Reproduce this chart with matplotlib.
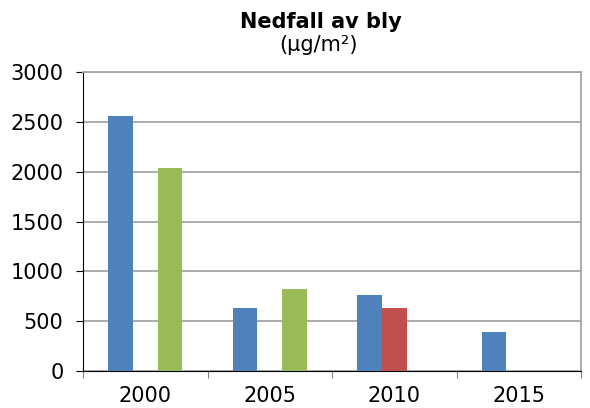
import numpy as np
import matplotlib.pyplot as plt

# data
years = ["2000", "2005", "2010", "2015"]
serie_blaa = [2555, 635, 760, 388]
serie_rod = [np.nan, np.nan, 628, np.nan]
serie_gronn = [2040, 822, np.nan, np.nan]
farger = ["#4f81bd", "#c0504d", "#9bbb59"]

fig = plt.figure(figsize=(5.9, 4.08), dpi=100)
ax = fig.add_axes([83 / 590, 1 - 371 / 408, 498 / 590, 299 / 408])

x = np.arange(len(years))
w = 0.197
for i, (vals, c) in enumerate(zip([serie_blaa, serie_rod, serie_gronn], farger)):
    ax.bar(x + (i - 1) * w, vals, width=w, color=c, zorder=3)

ax.set_xlim(-0.5, len(years) - 0.5)
ax.set_ylim(0, 3000)
ax.set_yticks(range(0, 3001, 500))
ax.yaxis.grid(True, color="#a6a6a6", linewidth=1.3, zorder=0)

ax.set_xticks(np.arange(-0.5, len(years), 1.0))
ax.set_xticklabels([])
ax.set_xticks(x, minor=True)
ax.set_xticklabels(years, minor=True)
ax.tick_params(axis="x", which="minor", length=0, pad=11, labelsize=15)
ax.tick_params(axis="x", which="major", length=5, color="#808080")
ax.tick_params(axis="y", length=5, labelsize=15, pad=9)

for s in ["top", "right"]:
    ax.spines[s].set_color("#a6a6a6")
    ax.spines[s].set_linewidth(1.3)
ax.spines["left"].set_color("black")
ax.spines["bottom"].set_color("black")

fig.text(321 / 590, 1 - 22 / 408, "Nedfall av bly", ha="center", va="center",
         fontsize=15, fontweight="bold")
fig.text(318 / 590, 1 - 45 / 408, "(µg/m²)", ha="center", va="center", fontsize=15)

fig.savefig("out.png", dpi=100)
